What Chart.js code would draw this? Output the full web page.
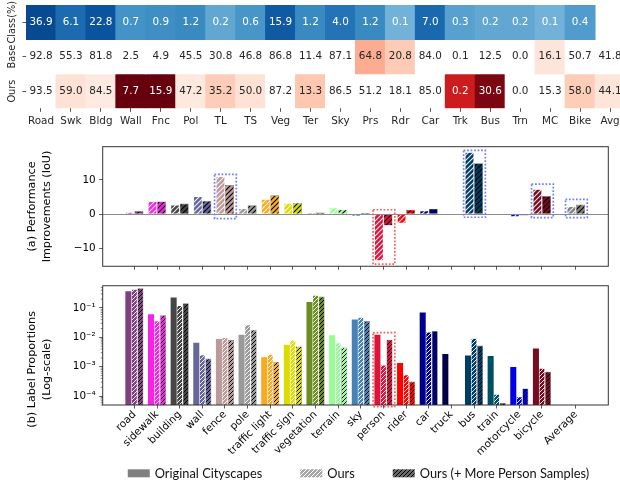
<!DOCTYPE html>
<html>
<head>
<meta charset="utf-8">
<script src="https://cdn.jsdelivr.net/npm/chart.js@4.4.1/dist/chart.umd.min.js"></script>
<style>
  html, body { margin:0; padding:0; background:#ffffff; overflow:hidden; }
  #fig { position:relative; width:620px; height:482px; overflow:hidden; background:#ffffff; }
  #fig canvas { position:absolute; left:0; }
</style>
</head>
<body>
<div id="fig">
  <canvas id="heat" width="632" height="132" style="top:0px"></canvas>
  <canvas id="impr" width="620" height="140" style="top:136px"></canvas>
  <canvas id="prop" width="620" height="206" style="top:276px"></canvas>
</div>
<script>
// ================= DATA =================
const heatColumns = ['Road','Swk','Bldg','Wall','Fnc','Pol','TL','TS','Veg','Ter','Sky','Prs','Rdr','Car','Trk','Bus','Trn','MC','Bike','Avg'];
const heatRows = ['Class(%)','Base','Ours'];
const classShare = [36.9,6.1,22.8,0.7,0.9,1.2,0.2,0.6,15.9,1.2,4.0,1.2,0.1,7.0,0.3,0.2,0.2,0.1,0.4,null];
const baseIoU    = [92.8,55.3,81.8,2.5,4.9,45.5,30.8,46.8,86.8,11.4,87.1,64.8,20.8,84.0,0.1,12.5,0.0,16.1,50.7,41.8];
const oursIoU    = [93.5,59.0,84.5,7.7,15.9,47.2,35.2,50.0,87.2,13.3,86.5,51.2,18.1,85.0,0.2,30.6,0.0,15.3,58.0,44.1];

const categories = ['road','sidewalk','building','wall','fence','pole','traffic light','traffic sign','vegetation','terrain','sky','person','rider','car','truck','bus','train','motorcycle','bicycle','Average'];
const gainOurs     = [0.6,3.7,2.7,5.2,11.0,1.7,4.4,3.2,0.4,1.9,-0.6,-13.6,-2.7,1.0,0.1,18.1,0.0,-0.8,7.3,2.3];
const gainOursMore = [0.9,3.7,3.1,3.9,8.5,2.6,5.5,3.3,0.5,1.3,0.4,-3.3,1.3,1.6,0.1,14.9,0.0,-0.4,5.3,2.8];

const propOriginal = [0.369,0.061,0.228,0.0066,0.0088,0.0123,0.0021,0.0056,0.159,0.0117,0.0403,0.0122,0.00135,0.0699,0.0027,0.0024,0.0023,0.00099,0.0042,null];
const propOurs     = [0.44,0.037,0.122,0.0026,0.0099,0.027,0.0027,0.0081,0.275,0.0066,0.0486,0.00116,0.00054,0.0154,null,0.0094,0.000118,0.000097,0.0009,null];
const propOursMore = [0.47,0.057,0.146,0.0019,0.0081,0.0179,0.00146,0.0049,0.244,0.0045,0.0357,0.0083,0.000314,0.0166,null,0.00525,0.000059,0.000183,0.00068,null];

const seriesNames = ['Original Cityscapes','Ours','Ours (+ More Person Samples)'];
const yTicksA = [-10, 0, 10];
const yTicksB = [1e-4, 1e-3, 1e-2, 1e-1];
const titleA = ['(a) Performance','Improvements (IoU)'];
const titleB = ['(b) Label Proportions','(Log-scale)'];

// highlighted groups (value range in data units)
const highlightA = [
  {cat:'fence',   lo:-1.3,  hi:11.6, tone:'blue'},
  {cat:'person',  lo:-14.6, hi:1.3,  tone:'red'},
  {cat:'bus',     lo:-0.9,  hi:18.6, tone:'blue'},
  {cat:'bicycle', lo:-1.0,  hi:8.8,  tone:'blue'},
  {cat:'Average', lo:-1.0,  hi:4.3,  tone:'blue'}
];
const highlightB = [
  {cat:'person', lo:4.4e-5, hi:0.0146, tone:'red'}
];

// ================= STYLE =================
const classColors = ['#804080','#f423e8','#464646','#66669c','#be9999','#999999','#faaa1e','#dcdc00','#6b8e23','#98fb98','#4682b4','#dc143c','#ff0000','#00008e','#000046','#003c64','#005064','#0000e6','#770b20','#808080'];
const toneColors = {blue:'#6f7dff', red:'#ff5c5c'};
const BLUES = ['#f7fbff','#deebf7','#c6dbef','#9ecae1','#6baed6','#4292c6','#2171b5','#08519c','#08306b'];
const REDS  = ['#fff5f0','#fee0d2','#fcbba1','#fc9272','#fb6a4a','#ef3b2c','#cb181d','#a50f15','#67000d'];
const FONT = '"DejaVu Sans", sans-serif';
const LEGEND_FONT = '12.8px Lato, "Open Sans", sans-serif';
Chart.defaults.font.family = FONT;
Chart.defaults.color = '#000';
Chart.defaults.animation = false;

const xPos = categories.map((c, i) => c === 'Average' ? i + 0.5 : i);

function hex2rgb(h){ return [1,3,5].map(k => parseInt(h.substr(k,2),16)); }
function cmap(stops, t){
  t = Math.max(0, Math.min(1, t));
  const n = stops.length - 1, f = t * n;
  const i = Math.min(n - 1, Math.floor(f)), u = f - i;
  const a = hex2rgb(stops[i]), b = hex2rgb(stops[i+1]);
  return 'rgb(' + a.map((v,k) => Math.round(v + (b[k]-v)*u)).join(',') + ')';
}
function lum(rgbStr){
  const m = rgbStr.match(/\d+/g).map(Number).map(v => { v/=255; return v <= 0.03928 ? v/12.92 : Math.pow((v+0.055)/1.055, 2.4); });
  return 0.2126*m[0] + 0.7152*m[1] + 0.0722*m[2];
}
const heatValues = [classShare, baseIoU, oursIoU];
function cellColor(ri, i){
  if (ri === 0) { const v = classShare[i]; return v == null ? 'rgb(255,255,255)' : cmap(BLUES, 0.644 + 0.164*Math.log10(v)); }
  const b = baseIoU[i], o = oursIoU[i];
  let rel = 0;
  if (ri === 1 && b > o && o > 0) rel = (b - o) / o;
  if (ri === 2 && o > b && b > 0) rel = (o - b) / b;
  if (rel < 0.02) return 'rgb(255,255,255)';
  return cmap(REDS, Math.min(1, 0.74 * Math.pow(rel, 0.7)));
}

const patCache = {};
function hatch(base, line, step, lw){
  const key = base + line + step + lw;
  if (patCache[key]) return patCache[key];
  const c = document.createElement('canvas');
  c.width = step; c.height = step;
  const g = c.getContext('2d');
  g.fillStyle = base; g.fillRect(0, 0, step, step);
  g.strokeStyle = line; g.lineWidth = lw;
  g.beginPath();
  g.moveTo(-1, step + 1); g.lineTo(step + 1, -1);
  g.moveTo(-1, 1); g.lineTo(1, -1);
  g.moveTo(step - 1, step + 1); g.lineTo(step + 1, step - 1);
  g.stroke();
  const p = g.createPattern(c, 'repeat');
  patCache[key] = p;
  return p;
}
const legendFills = ['#808080', hatch('#a6a6a6', '#ffffff', 4, 1), hatch('#6a6a6a', '#000000', 4, 1)];

// ================= PLUGINS =================
const frame = {
  id:'frame',
  afterDatasetsDraw(chart){
    const {ctx, chartArea:a} = chart;
    ctx.save(); ctx.strokeStyle = '#333'; ctx.lineWidth = 1;
    ctx.strokeRect(a.left, a.top, a.right - a.left, a.bottom - a.top);
    ctx.restore();
  }
};
function highlighter(list){
  return {
    id:'highlighter',
    afterDraw(chart){
      const {ctx, scales:{x, y}} = chart;
      ctx.save(); ctx.lineWidth = 1.7; ctx.setLineDash([1.7, 1.8]);
      list.forEach(b => {
        const cx = xPos[categories.indexOf(b.cat)];
        const l = x.getPixelForValue(cx - 0.46), r = x.getPixelForValue(cx + 0.5);
        const t = y.getPixelForValue(b.hi), bt = y.getPixelForValue(b.lo);
        ctx.strokeStyle = toneColors[b.tone];
        ctx.strokeRect(l, t, r - l, bt - t);
      });
      ctx.restore();
    }
  };
}
const minorTicks = {
  id:'minorTicks',
  afterDraw(chart){
    const {ctx, chartArea:a, scales:{y}} = chart;
    ctx.save(); ctx.strokeStyle = '#333'; ctx.lineWidth = 0.6;
    for (let e = -6; e <= 0; e++) for (let k = 2; k <= 9; k++) {
      const v = k * Math.pow(10, e);
      if (v < y.min || v > y.max) continue;
      const p = y.getPixelForValue(v);
      ctx.beginPath(); ctx.moveTo(a.left - 2, p); ctx.lineTo(a.left, p); ctx.stroke();
    }
    ctx.restore();
  }
};
// y-axis title of panel (b), sitting a little below the axis centre as in the figure
const titleBPlugin = {
  id:'titleB',
  afterDraw(chart){
    const {ctx, chartArea:a, scales:{y}} = chart;
    ctx.save();
    ctx.font = '11.2px ' + FONT; ctx.fillStyle = '#000';
    ctx.textAlign = 'center'; ctx.textBaseline = 'middle';
    const cy = (a.top + a.bottom) / 2 + 24;
    titleB.forEach((line, k) => {
      ctx.save();
      ctx.translate(y.left + 32 + k * 15.1, cy);
      ctx.rotate(-Math.PI / 2);
      ctx.fillText(line, 0, 0);
      ctx.restore();
    });
    ctx.restore();
  }
};
// figure legend below panel (b)
const figLegend = {
  id:'figLegend',
  afterDraw(chart){
    const {ctx, chartArea:a} = chart;
    ctx.save();
    ctx.font = LEGEND_FONT;
    const sw = 22, sh = 8, gap = 5, space = 38;
    const widths = seriesNames.map(n => sw + gap + ctx.measureText(n).width);
    const total = widths.reduce((s, w) => s + w, 0) + space * (seriesNames.length - 1);
    let x = (a.left + a.right) / 2 + 3 - total / 2;
    const yc = a.bottom + 68.3;
    seriesNames.forEach((n, i) => {
      ctx.fillStyle = legendFills[i];
      ctx.fillRect(x, yc - sh / 2, sw, sh);
      ctx.fillStyle = '#111'; ctx.textAlign = 'left'; ctx.textBaseline = 'middle';
      ctx.fillText(n, x + sw + gap, yc + 0.5);
      x += widths[i] + space;
    });
    ctx.restore();
  }
};
const heatText = {
  id:'heatText',
  afterDatasetsDraw(chart){
    const {ctx, scales:{x, y}} = chart;
    ctx.save(); ctx.font = '10.4px ' + FONT; ctx.textAlign = 'center'; ctx.textBaseline = 'middle';
    heatValues.forEach((vals, ri) => vals.forEach((v, i) => {
      if (v == null) return;
      ctx.fillStyle = lum(cellColor(ri, i)) < 0.408 ? '#ffffff' : '#262626';
      ctx.fillText(v.toFixed(1), x.getPixelForValue(i), y.getPixelForValue(ri + 0.5));
    }));
    ctx.restore();
  }
};

const SUP = {'-':'\u207b','0':'\u2070','1':'\u00b9','2':'\u00b2','3':'\u00b3','4':'\u2074','5':'\u2075','6':'\u2076','7':'\u2077','8':'\u2078','9':'\u2079'};
function powLabel(v){ const e = Math.round(Math.log10(v)); return '10' + String(e).split('').map(ch => SUP[ch]).join(''); }

// ================= HEATMAP =================
new Chart(document.getElementById('heat'), {
  type:'bar',
  data:{
    labels: heatColumns,
    datasets: heatRows.map((r, ri) => ({
      label: r,
      data: heatValues[ri].map(v => v == null ? null : [ri, ri + 1]),
      backgroundColor: heatValues[ri].map((v, i) => cellColor(ri, i)),
      borderWidth: 0, grouped: false, barPercentage: 1, categoryPercentage: 1, inflateAmount: 0.5
    }))
  },
  options:{
    responsive:false, animation:false,
    layout:{padding:{top:5, right:7, left:0, bottom:0}},
    plugins:{legend:{display:false}, tooltip:{enabled:false}},
    scales:{
      x:{ type:'category', offset:true,
          grid:{offset:false, drawOnChartArea:false, drawTicks:true, tickLength:3.5, tickColor:'#262626', tickWidth:0.8},
          border:{display:false},
          ticks:{color:'#262626', font:{size:10.4}, padding:3, maxRotation:0, minRotation:0, autoSkip:false},
          afterFit: s => { s.height = 23.7; } },
      y:{ type:'linear', min:0, max:3, reverse:true,
          afterBuildTicks: s => { s.ticks = heatRows.map((r, i) => ({value: i + 0.5})); },
          ticks:{ callback:(v, i) => heatRows[i], minRotation:90, maxRotation:90, crossAlign:'center', padding:-11, color:'#262626', font:{size:9.8}, autoSkip:false },
          grid:{drawOnChartArea:false, tickLength:3.5, tickColor:'#262626', tickWidth:0.8},
          border:{display:false},
          afterFit: s => { s.width = 26; } }
    }
  },
  plugins:[heatText]
});

// ================= (a) IMPROVEMENTS =================
new Chart(document.getElementById('impr'), {
  type:'bar',
  data:{
    datasets:[
      { label: seriesNames[1], data: categories.map((c, i) => ({x: xPos[i], y: gainOurs[i]})),
        backgroundColor: classColors.map(c => hatch(c, 'rgba(255,255,255,0.9)', 5, 1.1)),
        borderColor:'rgba(255,255,255,0.6)', borderWidth:0.6 },
      { label: seriesNames[2], data: categories.map((c, i) => ({x: xPos[i], y: gainOursMore[i]})),
        backgroundColor: classColors.map(c => hatch(c, '#000', 5, 1.1)),
        borderColor:'rgba(0,0,0,0.5)', borderWidth:0.6 }
    ]
  },
  options:{
    responsive:false, animation:false,
    datasets:{bar:{categoryPercentage:0.8, barPercentage:1}},
    layout:{padding:{top:10.7, right:11.7, left:0, bottom:0}},
    plugins:{legend:{display:false}, tooltip:{enabled:false}},
    scales:{
      x:{ type:'linear', min:-1.4, max:20.93, offset:false,
          afterBuildTicks: s => { s.ticks = xPos.map(v => ({value:v})); },
          ticks:{display:false, autoSkip:false},
          grid:{offset:false, drawOnChartArea:false, tickLength:3.5, tickColor:'#333', tickWidth:0.8},
          border:{display:false},
          afterFit: s => { s.height = 7.7; } },
      y:{ type:'linear', min:-15.2, max:19.7,
          afterBuildTicks: s => { s.ticks = yTicksA.map(v => ({value:v})); },
          ticks:{ callback: v => v < 0 ? '\u2212' + Math.abs(v) : String(v), font:{size:10.4}, color:'#000', padding:3.5 },
          grid:{ color: c => (c.tick && c.tick.value === 0) ? '#8c8c8c' : 'rgba(0,0,0,0)', lineWidth:1, tickColor:'#333', tickLength:3.5, tickWidth:0.8 },
          border:{display:false},
          title:{display:true, text:titleA, color:'#000', font:{size:11.2, lineHeight:1.35}, padding:{top:24.5, bottom:0}},
          afterFit: s => { s.width = 102.7; } }
    }
  },
  plugins:[frame, highlighter(highlightA)]
});

// ================= (b) LABEL PROPORTIONS =================
new Chart(document.getElementById('prop'), {
  type:'bar',
  data:{
    datasets:[
      { label: seriesNames[0], data: categories.map((c, i) => ({x: xPos[i], y: propOriginal[i]})),
        backgroundColor: classColors, borderWidth:0 },
      { label: seriesNames[1], data: categories.map((c, i) => ({x: xPos[i], y: propOurs[i]})),
        backgroundColor: classColors.map(c => hatch(c, 'rgba(255,255,255,0.9)', 4, 1)),
        borderColor:'rgba(255,255,255,0.6)', borderWidth:0.6 },
      { label: seriesNames[2], data: categories.map((c, i) => ({x: xPos[i], y: propOursMore[i]})),
        backgroundColor: classColors.map(c => hatch(c, '#000', 4, 1)),
        borderColor:'rgba(0,0,0,0.5)', borderWidth:0.6 }
    ]
  },
  options:{
    responsive:false, animation:false,
    datasets:{bar:{categoryPercentage:0.8, barPercentage:1}},
    layout:{padding:{top:7.3, right:11.7, left:0, bottom:0}},
    plugins:{ tooltip:{enabled:false}, legend:{display:false} },
    scales:{
      x:{ type:'linear', min:-1.4, max:20.93, offset:false,
          afterBuildTicks: s => { s.ticks = xPos.map(v => ({value:v})); },
          ticks:{ autoSkip:false, callback:(v, i) => categories[i], minRotation:45, maxRotation:45, font:{size:10.4}, color:'#000', padding:0 },
          grid:{offset:false, drawOnChartArea:false, tickLength:3.5, tickColor:'#333', tickWidth:0.8},
          border:{display:false},
          afterFit: s => { s.height = 77; } },
      y:{ type:'logarithmic', min:5e-5, max:0.57,
          afterBuildTicks: s => { s.ticks = yTicksB.map(v => ({value:v})); },
          ticks:{ callback: v => powLabel(v), font:{size:10.4}, color:'#000', padding:3.5, autoSkip:false },
          grid:{drawOnChartArea:false, tickLength:3.5, tickColor:'#333', tickWidth:0.8},
          border:{display:false},
          title:{display:false},
          afterFit: s => { s.width = 102.7; } }
    }
  },
  plugins:[frame, minorTicks, highlighter(highlightB), titleBPlugin, figLegend]
});
</script>
</body>
</html>
